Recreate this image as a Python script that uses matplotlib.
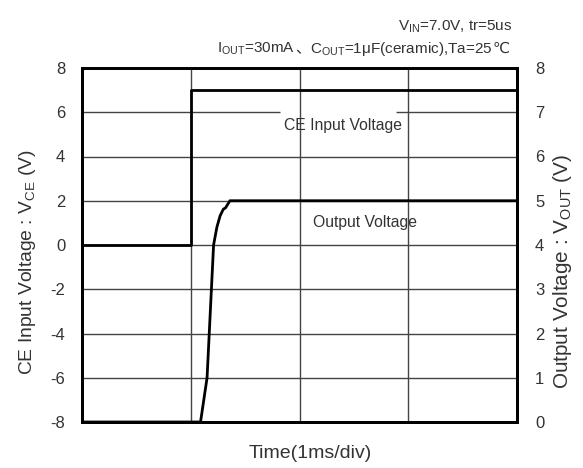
import matplotlib
matplotlib.use("Agg")
import matplotlib.pyplot as plt

plt.rcParams['font.family'] = ['Liberation Sans', 'DejaVu Sans']
plt.rcParams['mathtext.fontset'] = 'custom'
plt.rcParams['mathtext.rm'] = 'Liberation Sans'
plt.rcParams['mathtext.it'] = 'Liberation Sans'
plt.rcParams['mathtext.default'] = 'rm'
plt.rcParams['axes.unicode_minus'] = False

# Data
ce_time = [0.0, 1.0, 1.0, 4.0]            # ms
ce_volt = [0.0, 0.0, 7.0, 7.0]            # V (left axis)
out_time = [0.0, 1.09, 1.12, 1.15, 1.17, 1.19, 1.21, 1.24, 1.27, 1.30, 1.32, 1.36, 4.0]
out_volt = [0.0, 0.0, 0.5, 1.0, 2.0, 3.0, 4.0, 4.4, 4.66, 4.81, 4.84, 5.0, 5.0]
left_ticks = [-8, -6, -4, -2, 0, 2, 4, 6, 8]
right_ticks = [0, 1, 2, 3, 4, 5, 6, 7, 8]
x_grid = [1, 2, 3]
header1 = [('V$_{\\mathrm{IN}}$=7.0V, tr=5us', None)]
header2 = [('I$_{\\mathrm{OUT}}$=30mA', None), ('、', ['Noto Sans CJK JP']),
           ('C$_{\\mathrm{OUT}}$=1μF(ceramic),Ta=25', None),
           ('℃', ['DejaVu Sans', 'Noto Sans CJK JP'])]

TXT = '#333333'
W, H = 583, 468
fig = plt.figure(figsize=(W/100, H/100), dpi=100)
ax = fig.add_axes([82/W, 1-422/H, 435/W, 354/H])
ax2 = ax.twinx()

ax.set_xlim(0, 4)
ax.set_ylim(-8, 8)
ax2.set_ylim(0, 8)

# grid
for y in left_ticks[1:-1]:
    if y == 6:
        ax.hlines(y, 0, 1.825, color='#444444', lw=1.0, zorder=1)
        ax.hlines(y, 2.885, 4, color='#444444', lw=1.0, zorder=1)
    else:
        ax.axhline(y, color='#444444', lw=1.0, zorder=1)
for x in x_grid:
    ax.axvline(x, color='#444444', lw=1.0, zorder=1)

ax.plot(ce_time, ce_volt, color='black', lw=2.0, zorder=3)
ax2.plot(out_time, out_volt, color='black', lw=2.0, zorder=3)

ax.set_xticks([])
ax.set_yticks(left_ticks)
ax2.set_yticks(right_ticks)
ax.tick_params(axis='y', length=0, pad=12, labelsize=12, labelcolor=TXT)
ax2.tick_params(axis='y', length=0, pad=13, labelsize=12, labelcolor=TXT)
for a in (ax, ax2):
    for s in a.spines.values():
        s.set_linewidth(2.0)
        s.set_color('black')

ax.set_ylabel('CE Input Voltage : V$_{\\mathrm{CE}}$ (V)', fontsize=12.5, color=TXT)
ax2.set_ylabel('Output Voltage : V$_{\\mathrm{OUT}}$ (V)', fontsize=12.5, color=TXT,
               rotation=90)
ax.set_xlabel('Time(1ms/div)', fontsize=13.5, color=TXT)

# label centres (pixels) and target lengths, from the reference
ax.yaxis.set_label_coords((28-82)/435, (422-262.5)/354)
ax2.yaxis.set_label_coords((562-82)/435, (422-271)/354)
ax.xaxis.set_label_coords((310-82)/435, (422-454)/354)
for lab in (ax.yaxis.label, ax2.yaxis.label, ax.xaxis.label):
    lab.set_rotation_mode('anchor')
    lab.set_horizontalalignment('center')
    lab.set_verticalalignment('center')

ax.text(2.40, 5.38, 'CE Input Voltage', fontsize=11.3, color=TXT, ha='center', va='center', zorder=5)
ax.text(2.60, 1.01, 'Output Voltage', fontsize=11.3, color=TXT, ha='center', va='center', zorder=5)

fig.canvas.draw()
renderer = fig.canvas.get_renderer()

for lab, target, use_h in ((ax.yaxis.label, 226, True),
                           (ax2.yaxis.label, 236, True),
                           (ax.xaxis.label, 122, False)):
    bb = lab.get_window_extent(renderer=renderer)
    cur = bb.height if use_h else bb.width
    lab.set_fontsize(lab.get_fontsize() * target / cur)

def place_line(pieces, x_right_px, baseline_px, size):
    x = x_right_px
    for txt, fam in reversed(pieces):
        kw = {}
        if fam is not None:
            kw['family'] = fam
        t = fig.text(x / W, 1 - baseline_px / H, txt, fontsize=size, color=TXT,
                     ha='right', va='baseline', **kw)
        bb = t.get_window_extent(renderer=renderer)
        x = bb.x0

place_line(header1, 512, 31, 11)
place_line(header2, 510, 53, 11)

fig.savefig('out.png', dpi=100)
